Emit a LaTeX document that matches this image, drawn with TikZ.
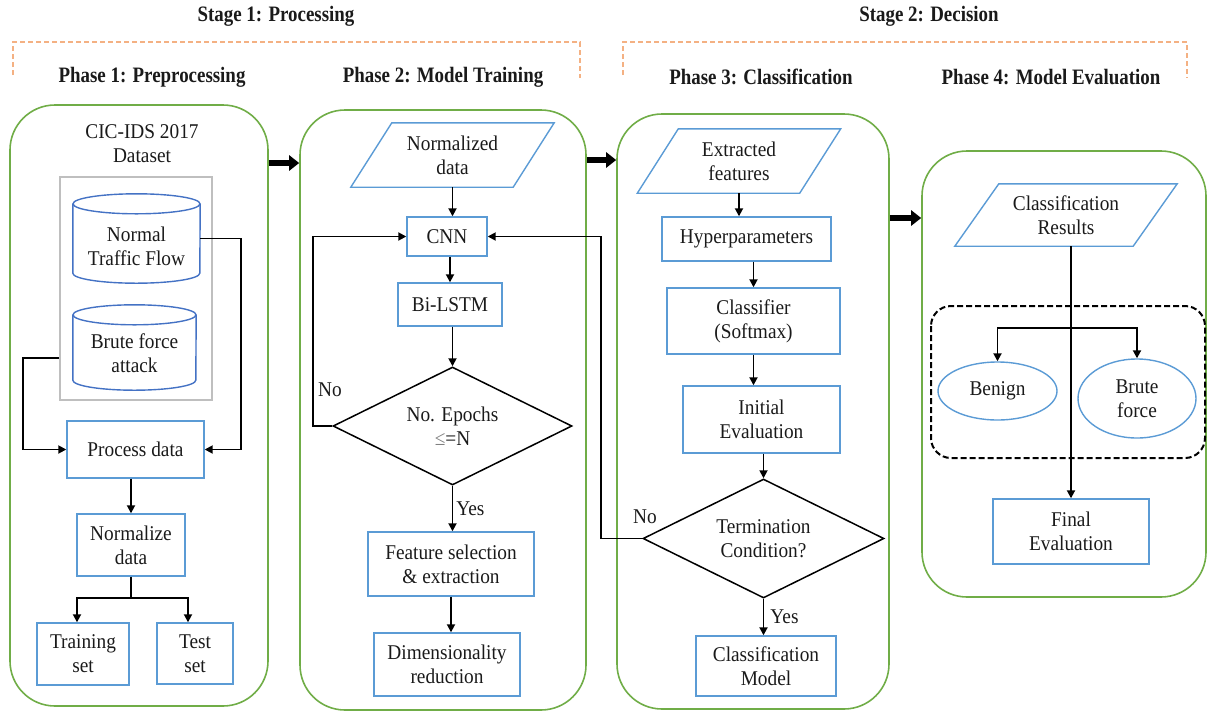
\documentclass[tikz,border=0pt]{standalone}
\usepackage{fontspec}
\setmainfont{Liberation Serif}
\newfontfamily\bodyfont{Liberation Serif}[FakeStretch=0.92]
\newfontfamily\hdrfont{Liberation Serif}[FakeStretch=0.86]
\usetikzlibrary{arrows.meta,calc,shapes.geometric}
\definecolor{bblue}{HTML}{5B9BD5}
\definecolor{cblue}{HTML}{4472C4}
\definecolor{pgreen}{HTML}{70AD47}
\definecolor{sorange}{HTML}{F4B183}
\definecolor{gbox}{HTML}{BFBFBF}
\definecolor{txt}{HTML}{1A1A1A}
\newcommand\cylout[2]{%
  \draw[cylline] ($(#1.north west)+(0,10)$) -- ($(#1.south west)+(0,-10)$)
     arc[start angle=180,end angle=360,x radius=#2pt,y radius=10pt] -- ($(#1.north east)+(0,10)$);
  \draw[cylline] ($(#1.north)+(0,10)$) ellipse[x radius=#2pt, y radius=10pt];}
\begin{document}
\begin{tikzpicture}[x=1pt,y=-1pt,
  every node/.style={font=\bodyfont\fontsize{21}{24}\selectfont, text=txt, align=center, inner sep=0pt},
  bbox/.style={draw=bblue, line width=1.4pt},
  cylline/.style={draw=cblue, line width=1.4pt},
  phasebox/.style={draw=pgreen, line width=1.6pt, rounded corners=45pt},
  arr/.style={line width=1.8pt, -{Triangle[length=8pt,width=8pt]}},
  big/.style={line width=6pt, -{Triangle[length=10pt,width=15pt]}},
  hdr/.style={font=\hdrfont\bfseries\fontsize{22}{24}\selectfont},
  bracket/.style={sorange, line width=1.3pt, dash pattern=on 5pt off 3pt},
  ellbox/.style={draw=bblue, line width=1.4pt, ellipse},
  dia/.style={draw=black, line width=1.5pt, diamond, aspect=2}
]
\useasboundingbox (0,0) rectangle (1208,713);

% headers
\node[hdr] (s1) at (276,16) {Stage 1: Processing};
\node[hdr] (s2) at (929,16) {Stage 2: Decision};
\draw[bracket] (13,75) -- (13,42) -- (580,42) -- (580,78);
\draw[bracket] (623,75) -- (623,42) -- (1187,42) -- (1187,78);
\node[hdr] (h1) at (152,77) {Phase 1: Preprocessing};
\node[hdr] (h2) at (443,77) {Phase 2: Model Training};
\node[hdr] (h3) at (761,77) {Phase 3: Classification};
\node[hdr] (h4) at (1051,77) {Phase 4: Model Evaluation};

% phase boxes
\node[phasebox, minimum width=258pt, minimum height=601pt] (p1) at (139,405.5) {};
\node[phasebox, minimum width=286pt, minimum height=600pt] (p2) at (443,410) {};
\node[phasebox, minimum width=272pt, minimum height=595pt] (p3) at (753,411.5) {};
\node[phasebox, minimum width=284pt, minimum height=446pt] (p4) at (1064,374) {};

\draw[big] (p1.east |- 0,163) -- (p2.west |- 0,163);
\draw[big] (p2.east |- 0,160) -- (p3.west |- 0,160);
\draw[big] (p3.east |- 0,218) -- (p4.west |- 0,218);

% ---------- Phase 1
\node (ds) at (142,144) {CIC-IDS 2017\\Dataset};
\node[draw=gbox, line width=1.8pt, minimum width=152pt, minimum height=223pt] (gr) at (136,288.5) {};
\node[minimum width=127pt, minimum height=89pt] (c1) at (136.5,238.5) {};
\cylout{c1}{63.5}
\node (c1t) at (136.5,246) {Normal\\Traffic Flow};
\node[minimum width=123pt, minimum height=85pt] (c2) at (134.5,347.5) {};
\cylout{c2}{61.5}
\node (c2t) at (134.5,353.5) {Brute force\\attack};
\node[bbox, minimum width=137pt, minimum height=57pt] (pd) at (135.5,449.5) {Process data};
\node[bbox, minimum width=108pt, minimum height=62pt] (nz) at (131,545) {Normalize\\data};
\node[bbox, minimum width=92pt, minimum height=62pt] (tr) at (83,654) {Training\\set};
\node[bbox, minimum width=76pt, minimum height=61pt] (te) at (195,653.5) {Test\\set};

\draw[arr] (c1.east) -- ++(41,0) |- (pd.east);
\draw[arr] (gr.west |- 0,358) -- ++(-36,0) |- (pd.west);
\draw[arr] (nz.north |- pd.south) -- (nz.north);
\draw[line width=1.8pt] (nz.south) -- ++(0,21) coordinate (nb);
\draw[arr] (nb) -| ($(tr.north)+(-6,0)$);
\draw[arr] (nb) -| ($(te.north)+(-7,0)$);

% ---------- Phase 2
\node[minimum width=162pt, minimum height=64pt] (nd) at (452.5,155) {Normalized\\data};
\draw[bbox] ($(nd.south west)+(-20.5,0)$) -- ($(nd.south east)+(-20.5,0)$) -- ($(nd.north east)+(20.5,0)$) -- ($(nd.north west)+(20.5,0)$) -- cycle;
\node[bbox, minimum width=80pt, minimum height=39pt] (cnn) at (447,236.5) {CNN};
\node[bbox, minimum width=104pt, minimum height=43pt] (bl) at (450,304.5) {Bi-LSTM};
\node[dia, minimum width=239pt, minimum height=118pt] (ep) at (452.5,426) {No. Epochs\\{\color{gray}≤}=N};
\node[bbox, minimum width=166pt, minimum height=64pt] (fs) at (451,564) {Feature selection\\\& extraction};
\node[bbox, minimum width=146pt, minimum height=63pt] (dr) at (447,664.5) {Dimensionality\\reduction};

\draw[arr] (nd.south) -- (nd.south |- cnn.north);
\draw[arr] (bl.north |- cnn.south) -- (bl.north);
\draw[arr] (ep.north |- bl.south) -- (ep.north);
\draw[arr] (ep.south) -- (ep.south |- fs.north) node[midway, right=3pt] (y1) {Yes};
\draw[arr] (fs.south) -- (fs.south |- dr.north);
\draw[arr] (ep.west) -- ++(-19,0) |- (cnn.west);
\node (n1) at (330,390) {No};

% ---------- Phase 3
\node[minimum width=162pt, minimum height=64pt] (ef) at (739,161) {Extracted\\features};
\draw[bbox] ($(ef.south west)+(-20.5,0)$) -- ($(ef.south east)+(-20.5,0)$) -- ($(ef.north east)+(20.5,0)$) -- ($(ef.north west)+(20.5,0)$) -- cycle;
\node[bbox, minimum width=169pt, minimum height=44pt] (hp) at (746.5,239) {Hyperparameters};
\node[bbox, minimum width=173pt, minimum height=66pt] (cs) at (753.5,321) {Classifier\\(Softmax)};
\node[bbox, minimum width=157pt, minimum height=67pt] (ie) at (761.5,419.5) {Initial\\Evaluation};
\node[dia, minimum width=241pt, minimum height=119pt] (tc) at (763.5,538.5) {Termination\\Condition?};
\node[bbox, minimum width=140pt, minimum height=60pt] (cm) at (766,666) {Classification\\Model};

\draw[arr] (ef.south) -- (ef.south |- hp.north);
\draw[arr] (cs.north |- hp.south) -- (cs.north);
\draw[arr] (cs.south) -- (cs.south |- ie.north);
\draw[arr] (tc.north |- ie.south) -- (tc.north);
\draw[arr] (tc.south) -- (tc.south |- cm.north) node[midway, right=6pt] (y2) {Yes};
\draw[arr] (tc.west) -- ++(-41,0) |- (cnn.east);
\node (n2) at (645,517) {No};

% ---------- Phase 4
\node[minimum width=178pt, minimum height=62pt] (cr) at (1066,215) {Classification\\Results};
\draw[bbox] ($(cr.south west)+(-22,0)$) -- ($(cr.south east)+(-22,0)$) -- ($(cr.north east)+(22,0)$) -- ($(cr.north west)+(22,0)$) -- cycle;
\draw[line width=2pt, dash pattern=on 6pt off 3pt, rounded corners=20pt] (931,306) rectangle (1205,458);
\node[ellbox, minimum width=119pt, minimum height=58pt] (bn) at (997.5,391) {Benign};
\node[ellbox, minimum width=118pt, minimum height=79pt] (bf) at (1137,398.5) {Brute\\force};
\node[bbox, minimum width=156pt, minimum height=65pt] (fe) at (1071,531.5) {Final\\Evaluation};

\draw[arr] (cr.south -| fe.north) -- (fe.north);
\coordinate (bj) at (1071,328);
\draw[arr] (bj) -| (bn.north);
\draw[arr] (bj) -| (bf.north);
\end{tikzpicture}
\end{document}
